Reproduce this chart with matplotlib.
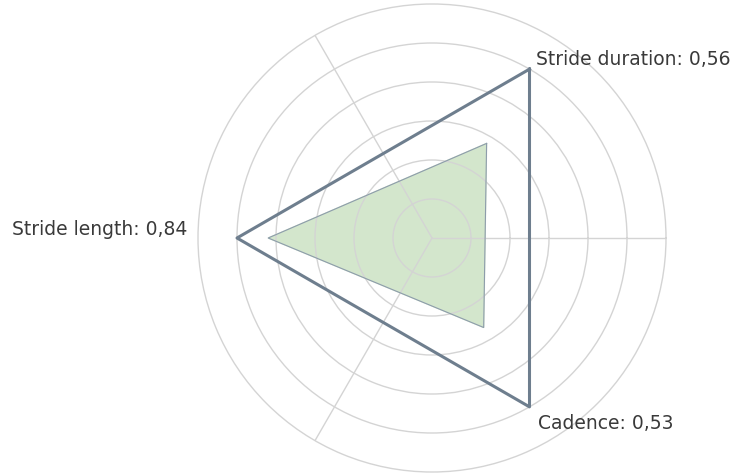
import numpy as np
from matplotlib import pyplot as plt

labels = ['Stride duration', 'Stride length', 'Cadence']
values = [0.56, 0.84, 0.53]
reference = [1.0, 1.0, 1.0]
angles_deg = [60, 180, 300]

theta = np.deg2rad(angles_deg)
theta_closed = np.append(theta, theta[0])

fig = plt.figure(figsize=(7.39, 4.76), dpi=100)
ax = fig.add_axes([198/739, 4/476, 468/739, 468/476], projection='polar')

grid_c = '#d4d4d4'
ax.set_ylim(0, 1.2)
ax.set_yticks([0.2, 0.4, 0.6, 0.8, 1.0])
ax.set_yticklabels([])
ax.set_thetagrids([0, 120, 240], labels=['', '', ''])
ax.grid(True, color=grid_c, linewidth=1)
ax.spines['polar'].set_color(grid_c)
ax.spines['polar'].set_linewidth(1)

# fill sits under the grid, so the rings show through it
ax.fill(theta_closed, np.append(values, values[0]), color='#d3e6cc', zorder=1)
ax.plot(theta_closed, np.append(values, values[0]), color='#8d9cab', linewidth=0.8, zorder=3)
ax.plot(theta_closed, np.append(reference, reference[0]), color='#6e7e8e', linewidth=2.2, zorder=4)

txt_c = '#3a3a3a'
fs = 13.5
offsets = [(7, 4, 'left'), (-50, 3, 'right'), (8, -22, 'left')]
for lab, val, th, r, (dx, dy, ha) in zip(labels, values, theta, reference, offsets):
    ax.annotate(f'{lab}: {val:.2f}'.replace('.', ','), xy=(th, r),
                xytext=(dx, dy), textcoords='offset pixels', ha=ha, va='baseline',
                color=txt_c, fontsize=fs, annotation_clip=False)

plt.savefig('out.png', dpi=100)
